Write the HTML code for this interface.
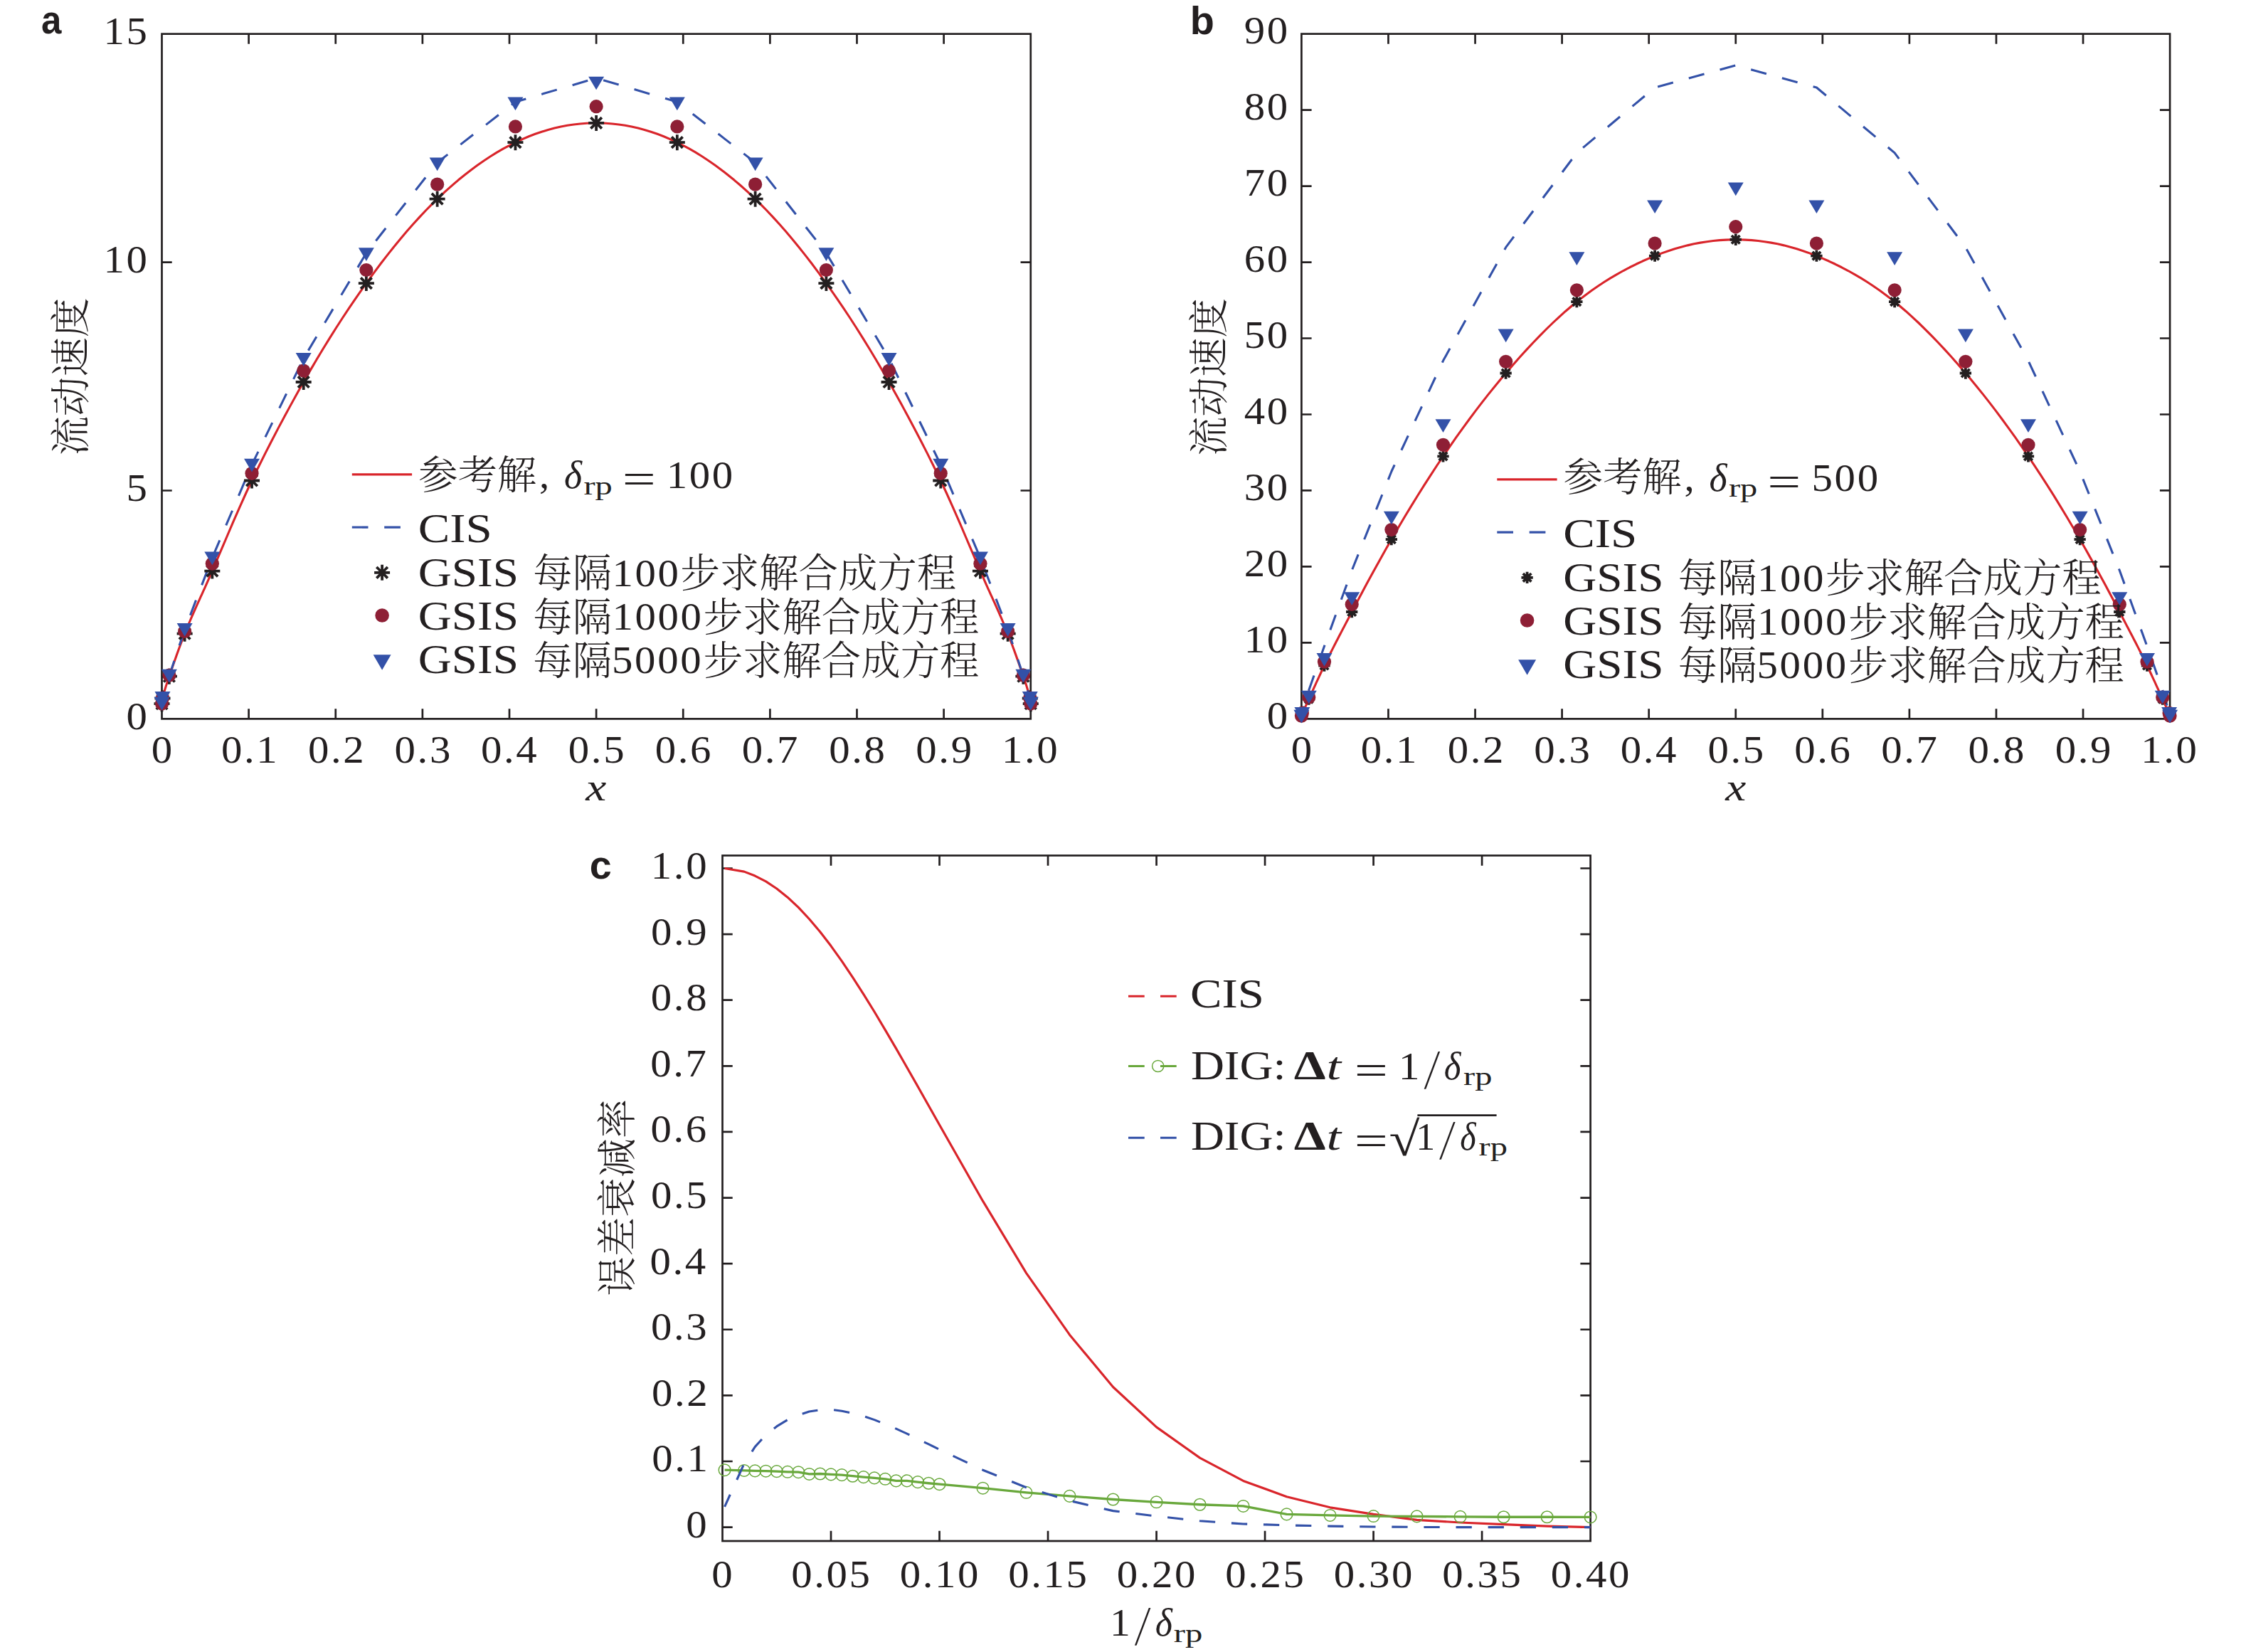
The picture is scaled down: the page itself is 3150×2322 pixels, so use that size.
<!DOCTYPE html>
<html><head><meta charset="utf-8"><title>figure</title>
<style>html,body{margin:0;padding:0;background:#fff}svg{display:block}</style></head>
<body>
<svg width="3150" height="2322" viewBox="0 0 3150 2322">
<rect width="3150" height="2322" fill="#fff"/>
<path d="M349.62 1010.4v-14.2M349.62 47.66v14.2M471.75 1010.4v-14.2M471.75 47.66v14.2M593.88 1010.4v-14.2M593.88 47.66v14.2M716 1010.4v-14.2M716 47.66v14.2M838.12 1010.4v-14.2M838.12 47.66v14.2M960.25 1010.4v-14.2M960.25 47.66v14.2M1082.38 1010.4v-14.2M1082.38 47.66v14.2M1204.5 1010.4v-14.2M1204.5 47.66v14.2M1326.62 1010.4v-14.2M1326.62 47.66v14.2M227.5 689.49h14.2M1448.75 689.49h-14.2M227.5 368.57h14.2M1448.75 368.57h-14.2" stroke="#231f20" stroke-width="2.7" fill="none"/>
<rect x="227.5" y="47.66" width="1221.25" height="962.74" fill="none" stroke="#231f20" stroke-width="2.7"/>
<path d="M227.5 989.22 L229.38 977.91 L231.26 971.04 L233.14 964.85 L235.02 959.12 L236.89 953.6 L238.77 948.09 L240.65 942.59 L242.53 937.14 L244.41 931.74 L246.29 926.39 L248.17 921.11 L250.05 915.9 L251.93 910.76 L253.8 905.71 L255.68 900.75 L257.56 895.9 L259.44 891.14 L261.32 886.49 L263.2 881.93 L265.08 877.43 L266.96 873.01 L268.83 868.64 L270.71 864.33 L272.59 860.07 L274.47 855.84 L276.35 851.65 L278.23 847.48 L280.11 843.33 L281.99 839.19 L283.87 835.06 L285.74 830.92 L287.62 826.77 L289.5 822.6 L291.38 818.41 L293.26 814.19 L295.14 809.93 L297.02 805.62 L298.9 801.26 L300.77 796.88 L309.81 775.7 L318.84 754.49 L327.87 733.45 L336.9 712.8 L345.93 692.76 L354.96 673.54 L363.99 654.98 L373.02 636.87 L382.05 619.19 L391.09 601.9 L400.12 584.97 L409.15 568.37 L418.18 552.08 L427.21 536.07 L436.24 520.36 L445.27 505 L454.3 489.98 L463.33 475.32 L472.37 460.99 L481.4 447 L490.43 433.35 L499.46 420.04 L508.49 407.06 L517.52 394.4 L526.55 382.07 L535.58 370.05 L544.61 358.37 L553.65 347.01 L562.68 336 L571.71 325.34 L580.74 315.04 L589.77 305.1 L598.8 295.53 L607.83 286.35 L616.86 277.55 L625.89 269.11 L634.93 261.04 L643.96 253.32 L652.99 245.95 L662.02 238.94 L671.05 232.29 L680.08 225.98 L689.11 220.04 L698.14 214.44 L707.17 209.2 L716.21 204.31 L725.24 199.77 L734.27 195.58 L743.3 191.76 L752.33 188.3 L761.36 185.2 L770.39 182.45 L779.42 180.05 L788.45 178 L797.49 176.3 L806.52 174.94 L815.55 173.93 L824.58 173.26 L833.61 172.92 L842.64 172.92 L851.67 173.26 L860.7 173.93 L869.73 174.94 L878.76 176.3 L887.8 178 L896.83 180.05 L905.86 182.45 L914.89 185.2 L923.92 188.3 L932.95 191.76 L941.98 195.58 L951.01 199.77 L960.04 204.31 L969.08 209.2 L978.11 214.44 L987.14 220.04 L996.17 225.98 L1005.2 232.29 L1014.23 238.94 L1023.26 245.95 L1032.29 253.32 L1041.32 261.04 L1050.36 269.11 L1059.39 277.55 L1068.42 286.35 L1077.45 295.53 L1086.48 305.1 L1095.51 315.04 L1104.54 325.34 L1113.57 336 L1122.6 347.01 L1131.64 358.37 L1140.67 370.05 L1149.7 382.07 L1158.73 394.4 L1167.76 407.06 L1176.79 420.04 L1185.82 433.35 L1194.85 447 L1203.88 460.99 L1212.92 475.32 L1221.95 489.98 L1230.98 505 L1240.01 520.36 L1249.04 536.07 L1258.07 552.08 L1267.1 568.37 L1276.13 584.97 L1285.16 601.9 L1294.2 619.19 L1303.23 636.87 L1312.26 654.98 L1321.29 673.54 L1330.32 692.76 L1339.35 712.8 L1348.38 733.45 L1357.41 754.49 L1366.44 775.7 L1375.47 796.88 L1377.35 801.26 L1379.23 805.62 L1381.11 809.93 L1382.99 814.19 L1384.87 818.41 L1386.75 822.6 L1388.63 826.77 L1390.51 830.92 L1392.38 835.06 L1394.26 839.19 L1396.14 843.33 L1398.02 847.48 L1399.9 851.65 L1401.78 855.84 L1403.66 860.07 L1405.54 864.33 L1407.42 868.64 L1409.29 873.01 L1411.17 877.43 L1413.05 881.93 L1414.93 886.49 L1416.81 891.14 L1418.69 895.9 L1420.57 900.75 L1422.45 905.71 L1424.33 910.76 L1426.2 915.9 L1428.08 921.11 L1429.96 926.39 L1431.84 931.74 L1433.72 937.14 L1435.6 942.59 L1437.48 948.09 L1439.36 953.6 L1441.23 959.12 L1443.11 964.85 L1444.99 971.04 L1446.87 977.91 L1448.75 989.22" fill="none" stroke="#d9252b" stroke-width="3.1" stroke-linejoin="round"/>
<path d="M227.5 989.16 L228.48 981.3 L237.88 949.89 L259.62 885 L298.33 784.12 L354.02 653.12 L426.69 503.9 L514.86 355.7 L614.64 228.5 L724.43 143.27 L838.12 109.83 L951.82 143.27 L1061.61 228.5 L1161.39 355.7 L1249.56 503.9 L1322.23 653.12 L1377.92 784.12 L1416.63 885 L1438.37 949.89 L1447.77 981.3 L1448.75 989.16" fill="none" stroke="#3351a8" stroke-width="3.1" stroke-dasharray="22.5 22.8" stroke-linejoin="round" stroke-dashoffset="5"/>
<path d="M216.5 989.22h22M227.5 978.22v22M219.72 981.44l15.56 15.56M219.72 997l15.56 -15.56" stroke="#231f20" stroke-width="3.8" fill="none"/>
<path d="M217.48 981.52h22M228.48 970.52v22M220.7 973.74l15.56 15.56M220.7 989.3l15.56 -15.56" stroke="#231f20" stroke-width="3.8" fill="none"/>
<path d="M226.88 950.71h22M237.88 939.71v22M230.1 942.93l15.56 15.56M230.1 958.49l15.56 -15.56" stroke="#231f20" stroke-width="3.8" fill="none"/>
<path d="M248.62 890.7h22M259.62 879.7v22M251.84 882.92l15.56 15.56M251.84 898.48l15.56 -15.56" stroke="#231f20" stroke-width="3.8" fill="none"/>
<path d="M287.33 802.58h22M298.33 791.58v22M290.55 794.8l15.56 15.56M290.55 810.35l15.56 -15.56" stroke="#231f20" stroke-width="3.8" fill="none"/>
<path d="M343.02 675.49h22M354.02 664.49v22M346.24 667.72l15.56 15.56M346.24 683.27l15.56 -15.56" stroke="#231f20" stroke-width="3.8" fill="none"/>
<path d="M415.69 536.99h22M426.69 525.99v22M418.91 529.21l15.56 15.56M418.91 544.77l15.56 -15.56" stroke="#231f20" stroke-width="3.8" fill="none"/>
<path d="M503.86 398.1h22M514.86 387.1v22M507.08 390.32l15.56 15.56M507.08 405.88l15.56 -15.56" stroke="#231f20" stroke-width="3.8" fill="none"/>
<path d="M603.64 279.68h22M614.64 268.68v22M606.86 271.9l15.56 15.56M606.86 287.46l15.56 -15.56" stroke="#231f20" stroke-width="3.8" fill="none"/>
<path d="M713.43 200.16h22M724.43 189.16v22M716.65 192.38l15.56 15.56M716.65 207.94l15.56 -15.56" stroke="#231f20" stroke-width="3.8" fill="none"/>
<path d="M827.12 172.88h22M838.12 161.88v22M830.35 165.1l15.56 15.56M830.35 180.66l15.56 -15.56" stroke="#231f20" stroke-width="3.8" fill="none"/>
<path d="M940.82 200.16h22M951.82 189.16v22M944.05 192.38l15.56 15.56M944.05 207.94l15.56 -15.56" stroke="#231f20" stroke-width="3.8" fill="none"/>
<path d="M1050.61 279.68h22M1061.61 268.68v22M1053.84 271.9l15.56 15.56M1053.84 287.46l15.56 -15.56" stroke="#231f20" stroke-width="3.8" fill="none"/>
<path d="M1150.39 398.1h22M1161.39 387.1v22M1153.61 390.32l15.56 15.56M1153.61 405.88l15.56 -15.56" stroke="#231f20" stroke-width="3.8" fill="none"/>
<path d="M1238.56 536.99h22M1249.56 525.99v22M1241.79 529.21l15.56 15.56M1241.79 544.77l15.56 -15.56" stroke="#231f20" stroke-width="3.8" fill="none"/>
<path d="M1311.23 675.49h22M1322.23 664.49v22M1314.45 667.72l15.56 15.56M1314.45 683.27l15.56 -15.56" stroke="#231f20" stroke-width="3.8" fill="none"/>
<path d="M1366.92 802.58h22M1377.92 791.58v22M1370.14 794.8l15.56 15.56M1370.14 810.35l15.56 -15.56" stroke="#231f20" stroke-width="3.8" fill="none"/>
<path d="M1405.63 890.7h22M1416.63 879.7v22M1408.85 882.92l15.56 15.56M1408.85 898.48l15.56 -15.56" stroke="#231f20" stroke-width="3.8" fill="none"/>
<path d="M1427.37 950.71h22M1438.37 939.71v22M1430.59 942.93l15.56 15.56M1430.59 958.49l15.56 -15.56" stroke="#231f20" stroke-width="3.8" fill="none"/>
<path d="M1436.77 981.52h22M1447.77 970.52v22M1439.99 973.74l15.56 15.56M1439.99 989.3l15.56 -15.56" stroke="#231f20" stroke-width="3.8" fill="none"/>
<path d="M1437.75 989.22h22M1448.75 978.22v22M1440.97 981.44l15.56 15.56M1440.97 997l15.56 -15.56" stroke="#231f20" stroke-width="3.8" fill="none"/>
<circle cx="227.5" cy="988.9" r="9.6" fill="#8e1f35"/>
<circle cx="228.48" cy="980.88" r="9.6" fill="#8e1f35"/>
<circle cx="237.88" cy="949.11" r="9.6" fill="#8e1f35"/>
<circle cx="259.62" cy="887.43" r="9.6" fill="#8e1f35"/>
<circle cx="298.33" cy="792.18" r="9.6" fill="#8e1f35"/>
<circle cx="354.02" cy="665.29" r="9.6" fill="#8e1f35"/>
<circle cx="426.69" cy="521.01" r="9.6" fill="#8e1f35"/>
<circle cx="514.86" cy="379.48" r="9.6" fill="#8e1f35"/>
<circle cx="614.64" cy="259.14" r="9.6" fill="#8e1f35"/>
<circle cx="724.43" cy="177.95" r="9.6" fill="#8e1f35"/>
<circle cx="838.12" cy="149.71" r="9.6" fill="#8e1f35"/>
<circle cx="951.82" cy="177.95" r="9.6" fill="#8e1f35"/>
<circle cx="1061.61" cy="259.14" r="9.6" fill="#8e1f35"/>
<circle cx="1161.39" cy="379.48" r="9.6" fill="#8e1f35"/>
<circle cx="1249.56" cy="521.01" r="9.6" fill="#8e1f35"/>
<circle cx="1322.23" cy="665.29" r="9.6" fill="#8e1f35"/>
<circle cx="1377.92" cy="792.18" r="9.6" fill="#8e1f35"/>
<circle cx="1416.63" cy="887.43" r="9.6" fill="#8e1f35"/>
<circle cx="1438.37" cy="949.11" r="9.6" fill="#8e1f35"/>
<circle cx="1447.77" cy="980.88" r="9.6" fill="#8e1f35"/>
<circle cx="1448.75" cy="988.9" r="9.6" fill="#8e1f35"/>
<path d="M216.5 979.87h22l-11 18.7z" fill="#3351a8"/>
<path d="M217.48 972.04h22l-11 18.7z" fill="#3351a8"/>
<path d="M226.88 940.72h22l-11 18.7z" fill="#3351a8"/>
<path d="M248.62 876.02h22l-11 18.7z" fill="#3351a8"/>
<path d="M287.33 775.45h22l-11 18.7z" fill="#3351a8"/>
<path d="M343.02 644.84h22l-11 18.7z" fill="#3351a8"/>
<path d="M415.69 496.06h22l-11 18.7z" fill="#3351a8"/>
<path d="M503.86 348.31h22l-11 18.7z" fill="#3351a8"/>
<path d="M603.64 221.49h22l-11 18.7z" fill="#3351a8"/>
<path d="M713.43 136.51h22l-11 18.7z" fill="#3351a8"/>
<path d="M827.12 107.63h22l-11 18.7z" fill="#3351a8"/>
<path d="M940.82 136.51h22l-11 18.7z" fill="#3351a8"/>
<path d="M1050.61 221.49h22l-11 18.7z" fill="#3351a8"/>
<path d="M1150.39 348.31h22l-11 18.7z" fill="#3351a8"/>
<path d="M1238.56 496.06h22l-11 18.7z" fill="#3351a8"/>
<path d="M1311.23 644.84h22l-11 18.7z" fill="#3351a8"/>
<path d="M1366.92 775.45h22l-11 18.7z" fill="#3351a8"/>
<path d="M1405.63 876.02h22l-11 18.7z" fill="#3351a8"/>
<path d="M1427.37 940.72h22l-11 18.7z" fill="#3351a8"/>
<path d="M1436.77 972.04h22l-11 18.7z" fill="#3351a8"/>
<path d="M1437.75 979.87h22l-11 18.7z" fill="#3351a8"/>
<text transform="translate(177.39 1024.9) scale(1.0600 1.0000)" font-family="'Liberation Serif',serif" font-size="55.5" letter-spacing="2.45" fill="#231f20">0</text>
<text transform="translate(177.54 703.99) scale(1.0600 1.0000)" font-family="'Liberation Serif',serif" font-size="55.5" letter-spacing="2.45" fill="#231f20">5</text>
<text transform="translate(145.38 383.07) scale(1.0600 1.0000)" font-family="'Liberation Serif',serif" font-size="55.5" letter-spacing="2.45" fill="#231f20">10</text>
<text transform="translate(145.52 62.16) scale(1.0600 1.0000)" font-family="'Liberation Serif',serif" font-size="55.5" letter-spacing="2.45" fill="#231f20">15</text>
<text transform="translate(212.79 1072.3) scale(1.0600 1.0000)" font-family="'Liberation Serif',serif" font-size="55.5" letter-spacing="2.45" fill="#231f20">0</text>
<text transform="translate(310.92 1072.3) scale(1.0600 1.0000)" font-family="'Liberation Serif',serif" font-size="55.5" letter-spacing="2.45" fill="#231f20">0.1</text>
<text transform="translate(432.9 1072.3) scale(1.0600 1.0000)" font-family="'Liberation Serif',serif" font-size="55.5" letter-spacing="2.45" fill="#231f20">0.2</text>
<text transform="translate(554.58 1072.3) scale(1.0600 1.0000)" font-family="'Liberation Serif',serif" font-size="55.5" letter-spacing="2.45" fill="#231f20">0.3</text>
<text transform="translate(675.97 1072.3) scale(1.0600 1.0000)" font-family="'Liberation Serif',serif" font-size="55.5" letter-spacing="2.45" fill="#231f20">0.4</text>
<text transform="translate(798.83 1072.3) scale(1.0600 1.0000)" font-family="'Liberation Serif',serif" font-size="55.5" letter-spacing="2.45" fill="#231f20">0.5</text>
<text transform="translate(920.66 1072.3) scale(1.0600 1.0000)" font-family="'Liberation Serif',serif" font-size="55.5" letter-spacing="2.45" fill="#231f20">0.6</text>
<text transform="translate(1042.71 1072.3) scale(1.0600 1.0000)" font-family="'Liberation Serif',serif" font-size="55.5" letter-spacing="2.45" fill="#231f20">0.7</text>
<text transform="translate(1165.13 1072.3) scale(1.0600 1.0000)" font-family="'Liberation Serif',serif" font-size="55.5" letter-spacing="2.45" fill="#231f20">0.8</text>
<text transform="translate(1287.33 1072.3) scale(1.0600 1.0000)" font-family="'Liberation Serif',serif" font-size="55.5" letter-spacing="2.45" fill="#231f20">0.9</text>
<text transform="translate(1407.91 1072.3) scale(1.0600 1.0000)" font-family="'Liberation Serif',serif" font-size="55.5" letter-spacing="2.45" fill="#231f20">1.0</text>
<text transform="translate(823.22 1125.3) scale(1.1772 1.0000)" font-family="'Liberation Serif',serif" font-size="55.5" font-style="italic" fill="#231f20">x</text>
<text transform="translate(119 529.5) rotate(-90)" font-family="'Liberation Serif','Noto Serif CJK SC',serif" font-size="55.4" font-weight="300" fill="#231f20" text-anchor="middle">流动速度</text>
<text transform="translate(58.07 47) scale(0.9121 1.0000)" font-family="'Liberation Sans',sans-serif" font-size="56" font-weight="bold" fill="#231f20">a</text>
<path d="M1951.47 1010.4v-14.2M1951.47 47.6v14.2M2073.54 1010.4v-14.2M2073.54 47.6v14.2M2195.61 1010.4v-14.2M2195.61 47.6v14.2M2317.68 1010.4v-14.2M2317.68 47.6v14.2M2439.75 1010.4v-14.2M2439.75 47.6v14.2M2561.82 1010.4v-14.2M2561.82 47.6v14.2M2683.89 1010.4v-14.2M2683.89 47.6v14.2M2805.96 1010.4v-14.2M2805.96 47.6v14.2M2928.03 1010.4v-14.2M2928.03 47.6v14.2M1829.4 903.42h14.2M3050.1 903.42h-14.2M1829.4 796.44h14.2M3050.1 796.44h-14.2M1829.4 689.47h14.2M3050.1 689.47h-14.2M1829.4 582.49h14.2M3050.1 582.49h-14.2M1829.4 475.51h14.2M3050.1 475.51h-14.2M1829.4 368.53h14.2M3050.1 368.53h-14.2M1829.4 261.56h14.2M3050.1 261.56h-14.2M1829.4 154.58h14.2M3050.1 154.58h-14.2" stroke="#231f20" stroke-width="2.7" fill="none"/>
<rect x="1829.4" y="47.6" width="1220.7" height="962.8" fill="none" stroke="#231f20" stroke-width="2.7"/>
<path d="M1829.4 1007.19 L1831.28 1001.63 L1833.16 997.3 L1835.03 993.07 L1836.91 988.91 L1838.79 984.77 L1840.67 980.61 L1842.55 976.45 L1844.42 972.3 L1846.3 968.16 L1848.18 964.04 L1850.06 959.93 L1851.94 955.85 L1853.81 951.8 L1855.69 947.77 L1857.57 943.77 L1859.45 939.81 L1861.33 935.89 L1863.2 932 L1865.08 928.15 L1866.96 924.34 L1868.84 920.56 L1870.72 916.81 L1872.59 913.09 L1874.47 909.4 L1876.35 905.72 L1878.23 902.07 L1880.11 898.44 L1881.98 894.82 L1883.86 891.21 L1885.74 887.62 L1887.62 884.03 L1889.5 880.45 L1891.37 876.87 L1893.25 873.28 L1895.13 869.7 L1897.01 866.11 L1898.89 862.51 L1900.76 858.91 L1902.64 855.31 L1911.67 838.17 L1920.7 821.3 L1929.72 804.7 L1938.75 788.38 L1947.78 772.31 L1956.8 756.51 L1965.83 740.99 L1974.86 725.77 L1983.89 710.83 L1992.91 696.19 L2001.94 681.84 L2010.97 667.79 L2019.99 654.02 L2029.02 640.55 L2038.05 627.37 L2047.07 614.46 L2056.1 601.83 L2065.13 589.49 L2074.16 577.42 L2083.18 565.65 L2092.21 554.15 L2101.24 542.95 L2110.26 532.03 L2119.29 521.4 L2128.32 511 L2137.34 500.83 L2146.37 490.91 L2155.4 481.24 L2164.43 471.86 L2173.45 462.77 L2182.48 454 L2191.51 445.56 L2200.53 437.46 L2209.56 429.73 L2218.59 422.39 L2227.61 415.41 L2236.64 408.78 L2245.67 402.49 L2254.7 396.53 L2263.72 390.89 L2272.75 385.56 L2281.78 380.51 L2290.8 375.76 L2299.83 371.27 L2308.86 367.04 L2317.89 363.07 L2326.91 359.33 L2335.94 355.86 L2344.97 352.68 L2353.99 349.78 L2363.02 347.18 L2372.05 344.87 L2381.07 342.85 L2390.1 341.12 L2399.13 339.68 L2408.16 338.53 L2417.18 337.66 L2426.21 337.08 L2435.24 336.8 L2444.26 336.8 L2453.29 337.08 L2462.32 337.66 L2471.34 338.53 L2480.37 339.68 L2489.4 341.12 L2498.43 342.85 L2507.45 344.87 L2516.48 347.18 L2525.51 349.78 L2534.53 352.68 L2543.56 355.86 L2552.59 359.33 L2561.61 363.07 L2570.64 367.04 L2579.67 371.27 L2588.7 375.76 L2597.72 380.51 L2606.75 385.56 L2615.78 390.89 L2624.8 396.53 L2633.83 402.49 L2642.86 408.78 L2651.89 415.41 L2660.91 422.39 L2669.94 429.73 L2678.97 437.46 L2687.99 445.56 L2697.02 454 L2706.05 462.77 L2715.07 471.86 L2724.1 481.24 L2733.13 490.91 L2742.16 500.83 L2751.18 511 L2760.21 521.4 L2769.24 532.03 L2778.26 542.95 L2787.29 554.15 L2796.32 565.65 L2805.34 577.42 L2814.37 589.49 L2823.4 601.83 L2832.43 614.46 L2841.45 627.37 L2850.48 640.55 L2859.51 654.02 L2868.53 667.79 L2877.56 681.84 L2886.59 696.19 L2895.61 710.83 L2904.64 725.77 L2913.67 740.99 L2922.7 756.51 L2931.72 772.31 L2940.75 788.38 L2949.78 804.7 L2958.8 821.3 L2967.83 838.17 L2976.86 855.31 L2978.74 858.91 L2980.61 862.51 L2982.49 866.11 L2984.37 869.7 L2986.25 873.28 L2988.13 876.87 L2990 880.45 L2991.88 884.03 L2993.76 887.62 L2995.64 891.21 L2997.52 894.82 L2999.39 898.44 L3001.27 902.07 L3003.15 905.72 L3005.03 909.4 L3006.91 913.09 L3008.78 916.81 L3010.66 920.56 L3012.54 924.34 L3014.42 928.15 L3016.3 932 L3018.17 935.89 L3020.05 939.81 L3021.93 943.77 L3023.81 947.77 L3025.69 951.8 L3027.56 955.85 L3029.44 959.93 L3031.32 964.04 L3033.2 968.16 L3035.08 972.3 L3036.95 976.45 L3038.83 980.61 L3040.71 984.77 L3042.59 988.91 L3044.47 993.07 L3046.34 997.3 L3048.22 1001.63 L3050.1 1007.19" fill="none" stroke="#d9252b" stroke-width="3.1" stroke-linejoin="round"/>
<path d="M1829.4 1006.66 L1830.38 1001.84 L1839.78 970.07 L1861.5 908.34 L1900.2 801.79 L1955.86 662.72 L2028.5 507.07 L2116.63 347.67 L2216.36 214.91 L2326.1 123.02 L2439.75 91.89 L2553.4 123.02 L2663.14 214.91 L2762.87 347.67 L2851 507.07 L2923.64 662.72 L2979.3 801.79 L3018 908.34 L3039.72 970.07 L3049.12 1001.84 L3050.1 1006.66" fill="none" stroke="#3351a8" stroke-width="3.1" stroke-dasharray="22.5 22.8" stroke-linejoin="round" stroke-dashoffset="8"/>
<path d="M1821.25 1007.19h16.3M1829.4 999.04v16.3M1823.64 1001.43l11.53 11.53M1823.64 1012.95l11.53 -11.53" stroke="#231f20" stroke-width="3.8" fill="none"/>
<path d="M1822.23 1003.77h16.3M1830.38 995.62v16.3M1824.61 998l11.53 11.53M1824.61 1009.53l11.53 -11.53" stroke="#231f20" stroke-width="3.8" fill="none"/>
<path d="M1831.63 982.59h16.3M1839.78 974.44v16.3M1834.01 976.82l11.53 11.53M1834.01 988.35l11.53 -11.53" stroke="#231f20" stroke-width="3.8" fill="none"/>
<path d="M1853.35 935.52h16.3M1861.5 927.37v16.3M1855.74 929.75l11.53 11.53M1855.74 941.28l11.53 -11.53" stroke="#231f20" stroke-width="3.8" fill="none"/>
<path d="M1892.05 859.99h16.3M1900.2 851.84v16.3M1894.44 854.23l11.53 11.53M1894.44 865.75l11.53 -11.53" stroke="#231f20" stroke-width="3.8" fill="none"/>
<path d="M1947.71 758.15h16.3M1955.86 750v16.3M1950.1 752.38l11.53 11.53M1950.1 763.91l11.53 -11.53" stroke="#231f20" stroke-width="3.8" fill="none"/>
<path d="M2020.35 641.33h16.3M2028.5 633.18v16.3M2022.73 635.56l11.53 11.53M2022.73 647.09l11.53 -11.53" stroke="#231f20" stroke-width="3.8" fill="none"/>
<path d="M2108.48 524.51h16.3M2116.63 516.36v16.3M2110.87 518.74l11.53 11.53M2110.87 530.27l11.53 -11.53" stroke="#231f20" stroke-width="3.8" fill="none"/>
<path d="M2208.21 424.16h16.3M2216.36 416.01v16.3M2210.6 418.4l11.53 11.53M2210.6 429.92l11.53 -11.53" stroke="#231f20" stroke-width="3.8" fill="none"/>
<path d="M2317.95 359.65h16.3M2326.1 351.5v16.3M2320.34 353.89l11.53 11.53M2320.34 365.42l11.53 -11.53" stroke="#231f20" stroke-width="3.8" fill="none"/>
<path d="M2431.6 336.76h16.3M2439.75 328.61v16.3M2433.99 331l11.53 11.53M2433.99 342.52l11.53 -11.53" stroke="#231f20" stroke-width="3.8" fill="none"/>
<path d="M2545.25 359.65h16.3M2553.4 351.5v16.3M2547.63 353.89l11.53 11.53M2547.63 365.42l11.53 -11.53" stroke="#231f20" stroke-width="3.8" fill="none"/>
<path d="M2654.99 424.16h16.3M2663.14 416.01v16.3M2657.38 418.4l11.53 11.53M2657.38 429.92l11.53 -11.53" stroke="#231f20" stroke-width="3.8" fill="none"/>
<path d="M2754.72 524.51h16.3M2762.87 516.36v16.3M2757.11 518.74l11.53 11.53M2757.11 530.27l11.53 -11.53" stroke="#231f20" stroke-width="3.8" fill="none"/>
<path d="M2842.85 641.33h16.3M2851 633.18v16.3M2845.24 635.56l11.53 11.53M2845.24 647.09l11.53 -11.53" stroke="#231f20" stroke-width="3.8" fill="none"/>
<path d="M2915.49 758.15h16.3M2923.64 750v16.3M2917.87 752.38l11.53 11.53M2917.87 763.91l11.53 -11.53" stroke="#231f20" stroke-width="3.8" fill="none"/>
<path d="M2971.15 859.99h16.3M2979.3 851.84v16.3M2973.54 854.23l11.53 11.53M2973.54 865.75l11.53 -11.53" stroke="#231f20" stroke-width="3.8" fill="none"/>
<path d="M3009.85 935.52h16.3M3018 927.37v16.3M3012.23 929.75l11.53 11.53M3012.23 941.28l11.53 -11.53" stroke="#231f20" stroke-width="3.8" fill="none"/>
<path d="M3031.57 982.59h16.3M3039.72 974.44v16.3M3033.96 976.82l11.53 11.53M3033.96 988.35l11.53 -11.53" stroke="#231f20" stroke-width="3.8" fill="none"/>
<path d="M3040.97 1003.77h16.3M3049.12 995.62v16.3M3043.36 998l11.53 11.53M3043.36 1009.53l11.53 -11.53" stroke="#231f20" stroke-width="3.8" fill="none"/>
<path d="M3041.95 1007.19h16.3M3050.1 999.04v16.3M3044.34 1001.43l11.53 11.53M3044.34 1012.95l11.53 -11.53" stroke="#231f20" stroke-width="3.8" fill="none"/>
<circle cx="1829.4" cy="1006.12" r="9.6" fill="#8e1f35"/>
<circle cx="1830.38" cy="1002.38" r="9.6" fill="#8e1f35"/>
<circle cx="1839.78" cy="980.02" r="9.6" fill="#8e1f35"/>
<circle cx="1861.5" cy="930.17" r="9.6" fill="#8e1f35"/>
<circle cx="1900.2" cy="849.51" r="9.6" fill="#8e1f35"/>
<circle cx="1955.86" cy="744.56" r="9.6" fill="#8e1f35"/>
<circle cx="2028.5" cy="625.28" r="9.6" fill="#8e1f35"/>
<circle cx="2116.63" cy="508.25" r="9.6" fill="#8e1f35"/>
<circle cx="2216.36" cy="407.79" r="9.6" fill="#8e1f35"/>
<circle cx="2326.1" cy="342" r="9.6" fill="#8e1f35"/>
<circle cx="2439.75" cy="318.68" r="9.6" fill="#8e1f35"/>
<circle cx="2553.4" cy="342" r="9.6" fill="#8e1f35"/>
<circle cx="2663.14" cy="407.79" r="9.6" fill="#8e1f35"/>
<circle cx="2762.87" cy="508.25" r="9.6" fill="#8e1f35"/>
<circle cx="2851" cy="625.28" r="9.6" fill="#8e1f35"/>
<circle cx="2923.64" cy="744.56" r="9.6" fill="#8e1f35"/>
<circle cx="2979.3" cy="849.51" r="9.6" fill="#8e1f35"/>
<circle cx="3018" cy="930.17" r="9.6" fill="#8e1f35"/>
<circle cx="3039.72" cy="980.02" r="9.6" fill="#8e1f35"/>
<circle cx="3049.12" cy="1002.38" r="9.6" fill="#8e1f35"/>
<circle cx="3050.1" cy="1006.12" r="9.6" fill="#8e1f35"/>
<path d="M1818.4 997.84h22l-11 18.7z" fill="#3351a8"/>
<path d="M1819.38 993.88h22l-11 18.7z" fill="#3351a8"/>
<path d="M1828.78 970.67h22l-11 18.7z" fill="#3351a8"/>
<path d="M1850.5 918.04h22l-11 18.7z" fill="#3351a8"/>
<path d="M1889.2 832.13h22l-11 18.7z" fill="#3351a8"/>
<path d="M1944.86 718.63h22l-11 18.7z" fill="#3351a8"/>
<path d="M2017.5 589.19h22l-11 18.7z" fill="#3351a8"/>
<path d="M2105.63 462.52h22l-11 18.7z" fill="#3351a8"/>
<path d="M2205.36 354.37h22l-11 18.7z" fill="#3351a8"/>
<path d="M2315.1 281.41h22l-11 18.7z" fill="#3351a8"/>
<path d="M2428.75 256.59h22l-11 18.7z" fill="#3351a8"/>
<path d="M2542.4 281.41h22l-11 18.7z" fill="#3351a8"/>
<path d="M2652.14 354.37h22l-11 18.7z" fill="#3351a8"/>
<path d="M2751.87 462.52h22l-11 18.7z" fill="#3351a8"/>
<path d="M2840 589.19h22l-11 18.7z" fill="#3351a8"/>
<path d="M2912.64 718.63h22l-11 18.7z" fill="#3351a8"/>
<path d="M2968.3 832.13h22l-11 18.7z" fill="#3351a8"/>
<path d="M3007 918.04h22l-11 18.7z" fill="#3351a8"/>
<path d="M3028.72 970.67h22l-11 18.7z" fill="#3351a8"/>
<path d="M3038.12 993.88h22l-11 18.7z" fill="#3351a8"/>
<path d="M3039.1 997.84h22l-11 18.7z" fill="#3351a8"/>
<text transform="translate(1780.69 1023.6) scale(1.0600 1.0000)" font-family="'Liberation Serif',serif" font-size="55.5" letter-spacing="2.45" fill="#231f20">0</text>
<text transform="translate(1748.68 916.62) scale(1.0600 1.0000)" font-family="'Liberation Serif',serif" font-size="55.5" letter-spacing="2.45" fill="#231f20">10</text>
<text transform="translate(1748.68 809.64) scale(1.0600 1.0000)" font-family="'Liberation Serif',serif" font-size="55.5" letter-spacing="2.45" fill="#231f20">20</text>
<text transform="translate(1748.68 702.67) scale(1.0600 1.0000)" font-family="'Liberation Serif',serif" font-size="55.5" letter-spacing="2.45" fill="#231f20">30</text>
<text transform="translate(1748.68 595.69) scale(1.0600 1.0000)" font-family="'Liberation Serif',serif" font-size="55.5" letter-spacing="2.45" fill="#231f20">40</text>
<text transform="translate(1748.68 488.71) scale(1.0600 1.0000)" font-family="'Liberation Serif',serif" font-size="55.5" letter-spacing="2.45" fill="#231f20">50</text>
<text transform="translate(1748.68 381.73) scale(1.0600 1.0000)" font-family="'Liberation Serif',serif" font-size="55.5" letter-spacing="2.45" fill="#231f20">60</text>
<text transform="translate(1748.68 274.76) scale(1.0600 1.0000)" font-family="'Liberation Serif',serif" font-size="55.5" letter-spacing="2.45" fill="#231f20">70</text>
<text transform="translate(1748.68 167.78) scale(1.0600 1.0000)" font-family="'Liberation Serif',serif" font-size="55.5" letter-spacing="2.45" fill="#231f20">80</text>
<text transform="translate(1748.68 60.8) scale(1.0600 1.0000)" font-family="'Liberation Serif',serif" font-size="55.5" letter-spacing="2.45" fill="#231f20">90</text>
<text transform="translate(1814.69 1072.3) scale(1.0600 1.0000)" font-family="'Liberation Serif',serif" font-size="55.5" letter-spacing="2.45" fill="#231f20">0</text>
<text transform="translate(1912.76 1072.3) scale(1.0600 1.0000)" font-family="'Liberation Serif',serif" font-size="55.5" letter-spacing="2.45" fill="#231f20">0.1</text>
<text transform="translate(2034.69 1072.3) scale(1.0600 1.0000)" font-family="'Liberation Serif',serif" font-size="55.5" letter-spacing="2.45" fill="#231f20">0.2</text>
<text transform="translate(2156.31 1072.3) scale(1.0600 1.0000)" font-family="'Liberation Serif',serif" font-size="55.5" letter-spacing="2.45" fill="#231f20">0.3</text>
<text transform="translate(2277.65 1072.3) scale(1.0600 1.0000)" font-family="'Liberation Serif',serif" font-size="55.5" letter-spacing="2.45" fill="#231f20">0.4</text>
<text transform="translate(2400.45 1072.3) scale(1.0600 1.0000)" font-family="'Liberation Serif',serif" font-size="55.5" letter-spacing="2.45" fill="#231f20">0.5</text>
<text transform="translate(2522.23 1072.3) scale(1.0600 1.0000)" font-family="'Liberation Serif',serif" font-size="55.5" letter-spacing="2.45" fill="#231f20">0.6</text>
<text transform="translate(2644.23 1072.3) scale(1.0600 1.0000)" font-family="'Liberation Serif',serif" font-size="55.5" letter-spacing="2.45" fill="#231f20">0.7</text>
<text transform="translate(2766.59 1072.3) scale(1.0600 1.0000)" font-family="'Liberation Serif',serif" font-size="55.5" letter-spacing="2.45" fill="#231f20">0.8</text>
<text transform="translate(2888.73 1072.3) scale(1.0600 1.0000)" font-family="'Liberation Serif',serif" font-size="55.5" letter-spacing="2.45" fill="#231f20">0.9</text>
<text transform="translate(3009.26 1072.3) scale(1.0600 1.0000)" font-family="'Liberation Serif',serif" font-size="55.5" letter-spacing="2.45" fill="#231f20">1.0</text>
<text transform="translate(2425.27 1125.3) scale(1.1772 1.0000)" font-family="'Liberation Serif',serif" font-size="55.5" font-style="italic" fill="#231f20">x</text>
<text transform="translate(1719 530) rotate(-90)" font-family="'Liberation Serif','Noto Serif CJK SC',serif" font-size="55.4" font-weight="300" fill="#231f20" text-anchor="middle">流动速度</text>
<text transform="translate(1672.67 47.6) scale(0.9972 1.0000)" font-family="'Liberation Sans',sans-serif" font-size="56" font-weight="bold" fill="#231f20">b</text>
<path d="M494.8 666.9 L579.1 666.9" fill="none" stroke="#d9252b" stroke-width="3.1" stroke-linejoin="round"/>
<text x="588" y="687" font-family="'Liberation Serif','Noto Serif CJK SC',serif" font-size="55.4" font-weight="300" fill="#231f20">参考解</text>
<text transform="translate(757.88 686.2) scale(1.0210 1.0000)" font-family="'Liberation Serif',serif" font-size="55.5" fill="#231f20">,</text>
<text transform="translate(793.08 686.2) scale(0.9704 1.0000)" font-family="'Liberation Serif',serif" font-size="55.5" font-style="italic" fill="#231f20">δ</text>
<text transform="translate(820.43 694.8) scale(1.3484 1.0000)" font-family="'Liberation Serif',serif" font-size="36" fill="#231f20">rp</text>
<text transform="translate(874.83 694.2) scale(1.5034 1.1000)" font-family="'Liberation Serif',serif" font-size="55.5" fill="#231f20">=</text>
<text transform="translate(936.85 686.2) scale(1.0600 1.0000)" font-family="'Liberation Serif',serif" font-size="55.5" letter-spacing="2.45" fill="#231f20">100</text>
<path d="M494.8 741.1 L579.1 741.1" fill="none" stroke="#3351a8" stroke-width="3.1" stroke-dasharray="22.7 22.7" stroke-linejoin="round"/>
<text transform="translate(587.73 762) scale(1.1518 1.0000)" font-family="'Liberation Serif',serif" font-size="58" fill="#231f20">CIS</text>
<text transform="translate(587.8 823.6) scale(1.1225 1.0000)" font-family="'Liberation Serif',serif" font-size="58" fill="#231f20">GSIS</text>
<text x="749.3" y="825.4" font-family="'Liberation Serif','Noto Serif CJK SC',serif" font-size="55.4" font-weight="300" fill="#231f20">每隔</text>
<text transform="translate(860.45 823.6) scale(1.0600 1.0000)" font-family="'Liberation Serif',serif" font-size="55.5" letter-spacing="2.45" fill="#231f20">100</text>
<text x="956.4" y="825.4" font-family="'Liberation Serif','Noto Serif CJK SC',serif" font-size="55.4" font-weight="300" fill="#231f20">步求解合成方程</text>
<text transform="translate(587.8 884.8) scale(1.1225 1.0000)" font-family="'Liberation Serif',serif" font-size="58" fill="#231f20">GSIS</text>
<text x="749.3" y="886.6" font-family="'Liberation Serif','Noto Serif CJK SC',serif" font-size="55.4" font-weight="300" fill="#231f20">每隔</text>
<text transform="translate(860.45 884.8) scale(1.0600 1.0000)" font-family="'Liberation Serif',serif" font-size="55.5" letter-spacing="2.45" fill="#231f20">1000</text>
<text x="988.7" y="886.6" font-family="'Liberation Serif','Noto Serif CJK SC',serif" font-size="55.4" font-weight="300" fill="#231f20">步求解合成方程</text>
<text transform="translate(587.8 946.2) scale(1.1225 1.0000)" font-family="'Liberation Serif',serif" font-size="58" fill="#231f20">GSIS</text>
<text x="749.3" y="948" font-family="'Liberation Serif','Noto Serif CJK SC',serif" font-size="55.4" font-weight="300" fill="#231f20">每隔</text>
<text transform="translate(860.12 946.2) scale(1.0600 1.0000)" font-family="'Liberation Serif',serif" font-size="55.5" letter-spacing="2.45" fill="#231f20">5000</text>
<text x="988.7" y="948" font-family="'Liberation Serif','Noto Serif CJK SC',serif" font-size="55.4" font-weight="300" fill="#231f20">步求解合成方程</text>
<path d="M526.1 804.8h22M537.1 793.8v22M529.32 797.02l15.56 15.56M529.32 812.58l15.56 -15.56" stroke="#231f20" stroke-width="3.8" fill="none"/>
<circle cx="537.1" cy="865" r="9.8" fill="#8e1f35"/>
<path d="M524.6 920.15h25l-12.5 21.5z" fill="#3351a8"/>
<path d="M2104.3 673.9 L2188.6 673.9" fill="none" stroke="#d9252b" stroke-width="3.1" stroke-linejoin="round"/>
<text x="2197.5" y="690.3" font-family="'Liberation Serif','Noto Serif CJK SC',serif" font-size="55.4" font-weight="300" fill="#231f20">参考解</text>
<text transform="translate(2367.38 689.5) scale(1.0210 1.0000)" font-family="'Liberation Serif',serif" font-size="55.5" fill="#231f20">,</text>
<text transform="translate(2402.58 689.5) scale(0.9704 1.0000)" font-family="'Liberation Serif',serif" font-size="55.5" font-style="italic" fill="#231f20">δ</text>
<text transform="translate(2429.93 698.1) scale(1.3484 1.0000)" font-family="'Liberation Serif',serif" font-size="36" fill="#231f20">rp</text>
<text transform="translate(2484.33 697.5) scale(1.5034 1.1000)" font-family="'Liberation Serif',serif" font-size="55.5" fill="#231f20">=</text>
<text transform="translate(2546.62 689.5) scale(1.0600 1.0000)" font-family="'Liberation Serif',serif" font-size="55.5" letter-spacing="2.45" fill="#231f20">500</text>
<path d="M2104.3 748.1 L2188.6 748.1" fill="none" stroke="#3351a8" stroke-width="3.1" stroke-dasharray="22.7 22.7" stroke-linejoin="round"/>
<text transform="translate(2197.23 769) scale(1.1518 1.0000)" font-family="'Liberation Serif',serif" font-size="58" fill="#231f20">CIS</text>
<text transform="translate(2197.3 830.6) scale(1.1225 1.0000)" font-family="'Liberation Serif',serif" font-size="58" fill="#231f20">GSIS</text>
<text x="2358.8" y="832.4" font-family="'Liberation Serif','Noto Serif CJK SC',serif" font-size="55.4" font-weight="300" fill="#231f20">每隔</text>
<text transform="translate(2469.95 830.6) scale(1.0600 1.0000)" font-family="'Liberation Serif',serif" font-size="55.5" letter-spacing="2.45" fill="#231f20">100</text>
<text x="2565.9" y="832.4" font-family="'Liberation Serif','Noto Serif CJK SC',serif" font-size="55.4" font-weight="300" fill="#231f20">步求解合成方程</text>
<text transform="translate(2197.3 891.8) scale(1.1225 1.0000)" font-family="'Liberation Serif',serif" font-size="58" fill="#231f20">GSIS</text>
<text x="2358.8" y="893.6" font-family="'Liberation Serif','Noto Serif CJK SC',serif" font-size="55.4" font-weight="300" fill="#231f20">每隔</text>
<text transform="translate(2469.95 891.8) scale(1.0600 1.0000)" font-family="'Liberation Serif',serif" font-size="55.5" letter-spacing="2.45" fill="#231f20">1000</text>
<text x="2598.2" y="893.6" font-family="'Liberation Serif','Noto Serif CJK SC',serif" font-size="55.4" font-weight="300" fill="#231f20">步求解合成方程</text>
<text transform="translate(2197.3 953.2) scale(1.1225 1.0000)" font-family="'Liberation Serif',serif" font-size="58" fill="#231f20">GSIS</text>
<text x="2358.8" y="955" font-family="'Liberation Serif','Noto Serif CJK SC',serif" font-size="55.4" font-weight="300" fill="#231f20">每隔</text>
<text transform="translate(2469.62 953.2) scale(1.0600 1.0000)" font-family="'Liberation Serif',serif" font-size="55.5" letter-spacing="2.45" fill="#231f20">5000</text>
<text x="2598.2" y="955" font-family="'Liberation Serif','Noto Serif CJK SC',serif" font-size="55.4" font-weight="300" fill="#231f20">步求解合成方程</text>
<path d="M2138.45 811.8h16.3M2146.6 803.65v16.3M2140.84 806.04l11.53 11.53M2140.84 817.56l11.53 -11.53" stroke="#231f20" stroke-width="3.8" fill="none"/>
<circle cx="2146.6" cy="872" r="9.8" fill="#8e1f35"/>
<path d="M2134.1 927.15h25l-12.5 21.5z" fill="#3351a8"/>
<path d="M1168.01 2166v-14.2M1168.01 1202.5v14.2M1320.53 2166v-14.2M1320.53 1202.5v14.2M1473.04 2166v-14.2M1473.04 1202.5v14.2M1625.55 2166v-14.2M1625.55 1202.5v14.2M1778.06 2166v-14.2M1778.06 1202.5v14.2M1930.58 2166v-14.2M1930.58 1202.5v14.2M2083.09 2166v-14.2M2083.09 1202.5v14.2M1015.5 2146.6h14.2M2235.6 2146.6h-14.2M1015.5 2053.99h14.2M2235.6 2053.99h-14.2M1015.5 1961.38h14.2M2235.6 1961.38h-14.2M1015.5 1868.77h14.2M2235.6 1868.77h-14.2M1015.5 1776.16h14.2M2235.6 1776.16h-14.2M1015.5 1683.55h14.2M2235.6 1683.55h-14.2M1015.5 1590.94h14.2M2235.6 1590.94h-14.2M1015.5 1498.33h14.2M2235.6 1498.33h-14.2M1015.5 1405.72h14.2M2235.6 1405.72h-14.2M1015.5 1313.11h14.2M2235.6 1313.11h-14.2M1015.5 1220.5h14.2M2235.6 1220.5h-14.2" stroke="#231f20" stroke-width="2.7" fill="none"/>
<rect x="1015.5" y="1202.5" width="1220.1" height="963.5" fill="none" stroke="#231f20" stroke-width="2.7"/>
<clipPath id="cc"><rect x="1015.5" y="1202.5" width="1221.4" height="963.5"/></clipPath>
<path d="M1018.55 1220.5 L1046 1225.13 L1061.25 1231.06 L1076.5 1238.93 L1091.76 1249.02 L1107.01 1261.16 L1122.26 1275.42 L1137.51 1291.72 L1152.76 1309.78 L1168.01 1329.59 L1183.26 1350.89 L1198.51 1373.58 L1213.77 1397.29 L1229.02 1422.02 L1244.27 1447.58 L1259.52 1473.6 L1274.77 1500.18 L1290.02 1526.95 L1305.27 1553.99 L1320.52 1581.03 L1381.53 1688.18 L1442.53 1789.31 L1503.54 1876.18 L1564.54 1949.53 L1625.55 2005.83 L1686.55 2049.17 L1747.56 2081.4 L1808.56 2103.72 L1869.57 2118.82 L1930.57 2128.36 L1991.58 2136.32 L2052.58 2140.02 L2113.59 2142.71 L2174.59 2145.12 L2235.6 2146.6" fill="none" stroke="#d9252b" stroke-width="3.2" stroke-linejoin="round" clip-path="url(#cc)"/>
<path d="M1018.55 2066.21 L1046 2066.96 L1061.25 2067.33 L1076.5 2067.7 L1091.76 2068.16 L1107.01 2068.81 L1122.26 2069.18 L1137.51 2071.96 L1152.76 2071.49 L1168.01 2072.42 L1183.26 2073.16 L1198.51 2074.73 L1213.77 2076.12 L1229.02 2077.33 L1244.27 2078.81 L1259.52 2081.4 L1274.77 2081.4 L1290.02 2083.16 L1305.27 2084.74 L1320.52 2086.22 L1381.53 2091.68 L1442.53 2097.79 L1503.54 2102.89 L1564.54 2107.52 L1625.55 2111.32 L1686.55 2114.74 L1747.56 2116.96 L1808.56 2128.36 L1869.57 2129.93 L1930.57 2131.04 L1991.58 2131.41 L2052.58 2131.88 L2113.59 2132.25 L2174.59 2132.25 L2235.6 2132.43" fill="none" stroke="#69a83c" stroke-width="3.3" stroke-linejoin="round"/>
<circle cx="1018.55" cy="2066.21" r="8.3" fill="none" stroke="#69a83c" stroke-width="1.5"/>
<circle cx="1046" cy="2066.96" r="8.3" fill="none" stroke="#69a83c" stroke-width="1.5"/>
<circle cx="1061.25" cy="2067.33" r="8.3" fill="none" stroke="#69a83c" stroke-width="1.5"/>
<circle cx="1076.5" cy="2067.7" r="8.3" fill="none" stroke="#69a83c" stroke-width="1.5"/>
<circle cx="1091.76" cy="2068.16" r="8.3" fill="none" stroke="#69a83c" stroke-width="1.5"/>
<circle cx="1107.01" cy="2068.81" r="8.3" fill="none" stroke="#69a83c" stroke-width="1.5"/>
<circle cx="1122.26" cy="2069.18" r="8.3" fill="none" stroke="#69a83c" stroke-width="1.5"/>
<circle cx="1137.51" cy="2071.96" r="8.3" fill="none" stroke="#69a83c" stroke-width="1.5"/>
<circle cx="1152.76" cy="2071.49" r="8.3" fill="none" stroke="#69a83c" stroke-width="1.5"/>
<circle cx="1168.01" cy="2072.42" r="8.3" fill="none" stroke="#69a83c" stroke-width="1.5"/>
<circle cx="1183.26" cy="2073.16" r="8.3" fill="none" stroke="#69a83c" stroke-width="1.5"/>
<circle cx="1198.51" cy="2074.73" r="8.3" fill="none" stroke="#69a83c" stroke-width="1.5"/>
<circle cx="1213.77" cy="2076.12" r="8.3" fill="none" stroke="#69a83c" stroke-width="1.5"/>
<circle cx="1229.02" cy="2077.33" r="8.3" fill="none" stroke="#69a83c" stroke-width="1.5"/>
<circle cx="1244.27" cy="2078.81" r="8.3" fill="none" stroke="#69a83c" stroke-width="1.5"/>
<circle cx="1259.52" cy="2081.4" r="8.3" fill="none" stroke="#69a83c" stroke-width="1.5"/>
<circle cx="1274.77" cy="2081.4" r="8.3" fill="none" stroke="#69a83c" stroke-width="1.5"/>
<circle cx="1290.02" cy="2083.16" r="8.3" fill="none" stroke="#69a83c" stroke-width="1.5"/>
<circle cx="1305.27" cy="2084.74" r="8.3" fill="none" stroke="#69a83c" stroke-width="1.5"/>
<circle cx="1320.52" cy="2086.22" r="8.3" fill="none" stroke="#69a83c" stroke-width="1.5"/>
<circle cx="1381.53" cy="2091.68" r="8.3" fill="none" stroke="#69a83c" stroke-width="1.5"/>
<circle cx="1442.53" cy="2097.79" r="8.3" fill="none" stroke="#69a83c" stroke-width="1.5"/>
<circle cx="1503.54" cy="2102.89" r="8.3" fill="none" stroke="#69a83c" stroke-width="1.5"/>
<circle cx="1564.54" cy="2107.52" r="8.3" fill="none" stroke="#69a83c" stroke-width="1.5"/>
<circle cx="1625.55" cy="2111.32" r="8.3" fill="none" stroke="#69a83c" stroke-width="1.5"/>
<circle cx="1686.55" cy="2114.74" r="8.3" fill="none" stroke="#69a83c" stroke-width="1.5"/>
<circle cx="1747.56" cy="2116.96" r="8.3" fill="none" stroke="#69a83c" stroke-width="1.5"/>
<circle cx="1808.56" cy="2128.36" r="8.3" fill="none" stroke="#69a83c" stroke-width="1.5"/>
<circle cx="1869.57" cy="2129.93" r="8.3" fill="none" stroke="#69a83c" stroke-width="1.5"/>
<circle cx="1930.57" cy="2131.04" r="8.3" fill="none" stroke="#69a83c" stroke-width="1.5"/>
<circle cx="1991.58" cy="2131.41" r="8.3" fill="none" stroke="#69a83c" stroke-width="1.5"/>
<circle cx="2052.58" cy="2131.88" r="8.3" fill="none" stroke="#69a83c" stroke-width="1.5"/>
<circle cx="2113.59" cy="2132.25" r="8.3" fill="none" stroke="#69a83c" stroke-width="1.5"/>
<circle cx="2174.59" cy="2132.25" r="8.3" fill="none" stroke="#69a83c" stroke-width="1.5"/>
<circle cx="2235.6" cy="2132.43" r="8.3" fill="none" stroke="#69a83c" stroke-width="1.5"/>
<path d="M1018.55 2117.89 L1046 2057.23 L1061.25 2033.62 L1076.5 2016.95 L1091.76 2004.91 L1107.01 1995.65 L1122.26 1989.16 L1137.51 1984.07 L1152.76 1981.75 L1168.01 1981.29 L1183.26 1983.33 L1198.51 1986.38 L1213.77 1990.55 L1229.02 1995.65 L1244.27 2001.67 L1259.52 2008.15 L1274.77 2015.09 L1290.02 2022.5 L1305.27 2029.91 L1320.52 2037.32 L1381.53 2066.21 L1442.53 2090.76 L1503.54 2109.37 L1564.54 2123.63 L1625.55 2131.13 L1686.55 2137.8 L1747.56 2141.97 L1808.56 2143.82 L1869.57 2145.12 L1930.57 2145.95 L1991.58 2146.41 L2052.58 2146.6 L2113.59 2146.6 L2174.59 2146.6 L2235.6 2146.6" fill="none" stroke="#3351a8" stroke-width="3.1" stroke-dasharray="22.3 22.8" stroke-linejoin="round" clip-path="url(#cc)" stroke-dashoffset="3.5"/>
<text transform="translate(964.19 2161) scale(1.0600 1.0000)" font-family="'Liberation Serif',serif" font-size="55.5" letter-spacing="2.45" fill="#231f20">0</text>
<text transform="translate(916.19 2068.39) scale(1.0600 1.0000)" font-family="'Liberation Serif',serif" font-size="55.5" letter-spacing="2.45" fill="#231f20">0.1</text>
<text transform="translate(915.9 1975.78) scale(1.0600 1.0000)" font-family="'Liberation Serif',serif" font-size="55.5" letter-spacing="2.45" fill="#231f20">0.2</text>
<text transform="translate(915.02 1883.17) scale(1.0600 1.0000)" font-family="'Liberation Serif',serif" font-size="55.5" letter-spacing="2.45" fill="#231f20">0.3</text>
<text transform="translate(913.54 1790.56) scale(1.0600 1.0000)" font-family="'Liberation Serif',serif" font-size="55.5" letter-spacing="2.45" fill="#231f20">0.4</text>
<text transform="translate(915.02 1697.95) scale(1.0600 1.0000)" font-family="'Liberation Serif',serif" font-size="55.5" letter-spacing="2.45" fill="#231f20">0.5</text>
<text transform="translate(914.43 1605.34) scale(1.0600 1.0000)" font-family="'Liberation Serif',serif" font-size="55.5" letter-spacing="2.45" fill="#231f20">0.6</text>
<text transform="translate(914.28 1512.73) scale(1.0600 1.0000)" font-family="'Liberation Serif',serif" font-size="55.5" letter-spacing="2.45" fill="#231f20">0.7</text>
<text transform="translate(914.87 1420.12) scale(1.0600 1.0000)" font-family="'Liberation Serif',serif" font-size="55.5" letter-spacing="2.45" fill="#231f20">0.8</text>
<text transform="translate(915.02 1327.51) scale(1.0600 1.0000)" font-family="'Liberation Serif',serif" font-size="55.5" letter-spacing="2.45" fill="#231f20">0.9</text>
<text transform="translate(914.87 1234.9) scale(1.0600 1.0000)" font-family="'Liberation Serif',serif" font-size="55.5" letter-spacing="2.45" fill="#231f20">1.0</text>
<text transform="translate(1000.29 2231) scale(1.0600 1.0000)" font-family="'Liberation Serif',serif" font-size="55.5" letter-spacing="2.45" fill="#231f20">0</text>
<text transform="translate(1112.21 2231) scale(1.0600 1.0000)" font-family="'Liberation Serif',serif" font-size="55.5" letter-spacing="2.45" fill="#231f20">0.05</text>
<text transform="translate(1264.65 2231) scale(1.0600 1.0000)" font-family="'Liberation Serif',serif" font-size="55.5" letter-spacing="2.45" fill="#231f20">0.10</text>
<text transform="translate(1417.23 2231) scale(1.0600 1.0000)" font-family="'Liberation Serif',serif" font-size="55.5" letter-spacing="2.45" fill="#231f20">0.15</text>
<text transform="translate(1569.67 2231) scale(1.0600 1.0000)" font-family="'Liberation Serif',serif" font-size="55.5" letter-spacing="2.45" fill="#231f20">0.20</text>
<text transform="translate(1722.26 2231) scale(1.0600 1.0000)" font-family="'Liberation Serif',serif" font-size="55.5" letter-spacing="2.45" fill="#231f20">0.25</text>
<text transform="translate(1874.7 2231) scale(1.0600 1.0000)" font-family="'Liberation Serif',serif" font-size="55.5" letter-spacing="2.45" fill="#231f20">0.30</text>
<text transform="translate(2027.28 2231) scale(1.0600 1.0000)" font-family="'Liberation Serif',serif" font-size="55.5" letter-spacing="2.45" fill="#231f20">0.35</text>
<text transform="translate(2179.72 2231) scale(1.0600 1.0000)" font-family="'Liberation Serif',serif" font-size="55.5" letter-spacing="2.45" fill="#231f20">0.40</text>
<text transform="translate(886.5 1683) rotate(-90)" font-family="'Liberation Serif','Noto Serif CJK SC',serif" font-size="55.4" font-weight="300" fill="#231f20" text-anchor="middle">误差衰减率</text>
<text transform="translate(828.67 1234.6) scale(0.9963 1.0000)" font-family="'Liberation Sans',sans-serif" font-size="56" font-weight="bold" fill="#231f20">c</text>
<text transform="translate(1559.96 2298.9) scale(1.0376 1.0000)" font-family="'Liberation Serif',serif" font-size="55.5" fill="#231f20">1</text>
<text transform="translate(1595.1 2312) skewX(-8) scale(0.9800 1.4200)" font-family="'Liberation Serif',serif" font-size="55.5" fill="#231f20">/</text>
<text transform="translate(1623.74 2298.9) scale(0.9341 1.0000)" font-family="'Liberation Serif',serif" font-size="55.5" font-style="italic" fill="#231f20">δ</text>
<text transform="translate(1649.82 2307.6) scale(1.3556 1.0000)" font-family="'Liberation Serif',serif" font-size="36" fill="#231f20">rp</text>
<path d="M1586 1400.2 L1653.7 1400.2" fill="none" stroke="#d9252b" stroke-width="3.1" stroke-dasharray="22.7 22.3" stroke-linejoin="round"/>
<path d="M1586 1498.5 L1653.7 1498.5" fill="none" stroke="#69a83c" stroke-width="3.1" stroke-dasharray="22.7 22.3" stroke-linejoin="round"/>
<path d="M1586 1599.2 L1653.7 1599.2" fill="none" stroke="#3351a8" stroke-width="3.1" stroke-dasharray="22.7 22.3" stroke-linejoin="round"/>
<circle cx="1627.7" cy="1498.5" r="8.1" fill="none" stroke="#69a83c" stroke-width="1.5"/>
<text transform="translate(1673.03 1416.3) scale(1.1506 1.0000)" font-family="'Liberation Serif',serif" font-size="58" fill="#231f20">CIS</text>
<text transform="translate(1673.91 1516.7) scale(1.1208 1.0000)" font-family="'Liberation Serif',serif" font-size="58" fill="#231f20">DIG:</text>
<text transform="translate(1818.8 1516.7) scale(1.2907 1.0300)" font-family="'Liberation Serif',serif" font-size="55.5" font-weight="bold" fill="#231f20">Δ</text>
<text transform="translate(1864.57 1516.7) scale(1.3344 1.0000)" font-family="'Liberation Serif',serif" font-size="55.5" font-style="italic" fill="#231f20">t</text>
<text transform="translate(1903.82 1524.7) scale(1.5073 1.1000)" font-family="'Liberation Serif',serif" font-size="55.5" fill="#231f20">=</text>
<text transform="translate(1965.79 1516.7) scale(1.0734 1.0000)" font-family="'Liberation Serif',serif" font-size="55.5" fill="#231f20">1</text>
<text transform="translate(2001.8 1530.2) skewX(-8) scale(0.9800 1.4200)" font-family="'Liberation Serif',serif" font-size="55.5" fill="#231f20">/</text>
<text transform="translate(2029.67 1516.7) scale(0.9180 1.0000)" font-family="'Liberation Serif',serif" font-size="55.5" font-style="italic" fill="#231f20">δ</text>
<text transform="translate(2057.03 1525.3) scale(1.3484 1.0000)" font-family="'Liberation Serif',serif" font-size="36" fill="#231f20">rp</text>
<text transform="translate(1673.91 1615.8) scale(1.1208 1.0000)" font-family="'Liberation Serif',serif" font-size="58" fill="#231f20">DIG:</text>
<text transform="translate(1818.8 1615.8) scale(1.2907 1.0300)" font-family="'Liberation Serif',serif" font-size="55.5" font-weight="bold" fill="#231f20">Δ</text>
<text transform="translate(1864.57 1615.8) scale(1.3344 1.0000)" font-family="'Liberation Serif',serif" font-size="55.5" font-style="italic" fill="#231f20">t</text>
<text transform="translate(1903.82 1623.8) scale(1.5073 1.1000)" font-family="'Liberation Serif',serif" font-size="55.5" fill="#231f20">=</text>
<text transform="translate(1952.54 1624.3) scale(1.4139 1.2200)" font-family="'Liberation Serif',serif" font-size="55.5" fill="#231f20">√</text>
<path d="M1992.4 1567.6H2103.6" stroke="#231f20" stroke-width="2.6" fill="none"/>
<text transform="translate(1990.28 1615.8) scale(0.9712 1.0000)" font-family="'Liberation Serif',serif" font-size="55.5" fill="#231f20">1</text>
<text transform="translate(2023.3 1629.3) skewX(-8) scale(0.9800 1.4200)" font-family="'Liberation Serif',serif" font-size="55.5" fill="#231f20">/</text>
<text transform="translate(2052.26 1615.8) scale(0.8657 1.0000)" font-family="'Liberation Serif',serif" font-size="55.5" font-style="italic" fill="#231f20">δ</text>
<text transform="translate(2078.53 1624.4) scale(1.3484 1.0000)" font-family="'Liberation Serif',serif" font-size="36" fill="#231f20">rp</text>
</svg>
</body></html>
